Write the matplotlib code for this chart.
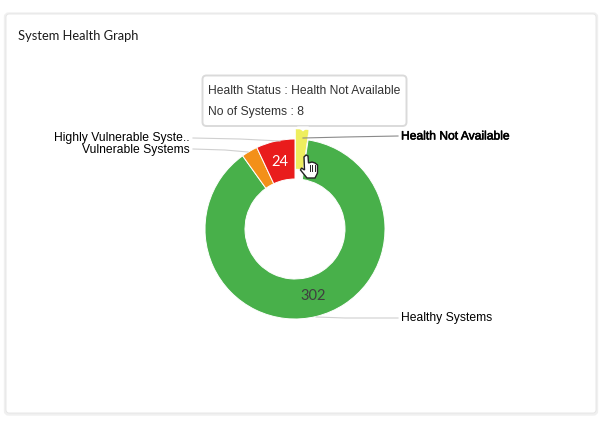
import matplotlib
matplotlib.use("Agg")
import matplotlib.pyplot as plt
import matplotlib.patheffects as pe
from matplotlib.patches import FancyBboxPatch, Polygon

statuses = ["Health Not Available", "Healthy Systems", "Vulnerable Systems", "Highly Vulnerable Syste.."]
systems = [8, 302, 10, 24]
colors = ["#EEEE5E", "#48B04A", "#F39019", "#E91C1C"]
explode = [10, 0, 0, 0]

W, H = 605, 424
def Y(y):
    return H - y

fig = plt.figure(figsize=(W / 100, H / 100), dpi=100, facecolor="white")
ax = fig.add_axes([0, 0, 1, 1])
ax.set_xlim(0, W)
ax.set_ylim(0, H)
ax.axis("off")

# card
ax.add_patch(FancyBboxPatch((5.5, Y(414)), 591, 400, boxstyle="round,pad=0,rounding_size=3",
                            fc="none", ec="#F0F0F0", lw=2.4, zorder=1))
ax.add_patch(FancyBboxPatch((6, Y(413)), 590, 399, boxstyle="round,pad=0,rounding_size=3",
                            fc="white", ec="#E4E4E4", lw=0.6, zorder=1))
ax.text(18, Y(35.5), "System Health Graph", family="Lato", fontsize=9.3, color="#1a1a1a",
        va="center", ha="left", zorder=3)

# donut
cx, cy = 295, Y(229)
wedges, _ = ax.pie(systems, colors=colors, explode=explode, center=(cx, cy), radius=90,
                   startangle=90, counterclock=False, frame=True,
                   wedgeprops=dict(width=40, edgecolor="white", linewidth=0.7, zorder=4))
wedges[0].set_linewidth(0.3)
ax.set_xlim(0, W)
ax.set_ylim(0, H)
ax.set_aspect("auto")
ax.axis("off")

# value labels
ax.text(280, Y(161.5), str(systems[3]), family="Lato", fontsize=10.5, color="white", ha="center", va="center", zorder=6)
ax.text(313, Y(296.5), str(systems[1]), family="Lato", fontsize=10.5, color="#3f3f3f", ha="center", va="center", zorder=6)

# leader lines and category labels
leaders = [
    (statuses[0], [(303, 138), (345, 137), (398, 136)], "#8a8a8a", 401, 136.5, "left"),
    (statuses[1], [(316, 317), (345, 318), (398, 318)], "#D0D0D0", 401, 318.5, "left"),
    (statuses[2], [(248, 152), (225, 150), (193, 149)], "#D0D0D0", 190, 149.5, "right"),
    (statuses[3], [(280, 141), (240, 139), (193, 138)], "#D0D0D0", 190, 138.5, "right"),
]
for name, pts, col, tx, ty, ha in leaders:
    ax.plot([p[0] for p in pts], [Y(p[1]) for p in pts], color=col, lw=0.8, zorder=5)
    t = ax.text(tx, Y(ty), name, family="Liberation Sans", fontsize=8.7, color="black", ha=ha, va="center", zorder=6)
    if name == statuses[0]:
        t.set_path_effects([pe.withStroke(linewidth=0.4, foreground="black")])

# tooltip
ax.add_patch(FancyBboxPatch((202.5, Y(126)), 204, 50.5, boxstyle="round,pad=0,rounding_size=4",
                            fc="white", ec="#DADADA", lw=1.4, zorder=7))
ax.add_patch(Polygon([(297, Y(126.5)), (303, Y(131.5)), (309, Y(126.5))], closed=True, fc="white", ec="none", zorder=8))
ax.text(208, Y(91.5), f"Health Status : {statuses[0]}", family="Liberation Sans", fontsize=8.7, color="#333333",
        ha="left", va="center", zorder=9)
ax.text(208, Y(111.5), f"No of Systems : {systems[0]}", family="Liberation Sans", fontsize=8.7, color="#333333",
        ha="left", va="center", zorder=9)

# hand cursor
hand = [(304, 157), (306, 155), (308, 156), (308.5, 163), (312, 162), (315, 163), (317.5, 165), (317.5, 173),
        (315, 178), (307, 178), (300.5, 170), (301.5, 168), (304.5, 170)]
ax.add_patch(Polygon([(x, Y(y)) for x, y in hand], closed=True, fc="white", ec="#222222", lw=1.0, zorder=10))
for xs in (309.5, 312, 314.5):
    ax.plot([xs, xs], [Y(165), Y(171)], color="#222222", lw=0.7, zorder=11)

fig.savefig("out.png", dpi=100, facecolor="white")
